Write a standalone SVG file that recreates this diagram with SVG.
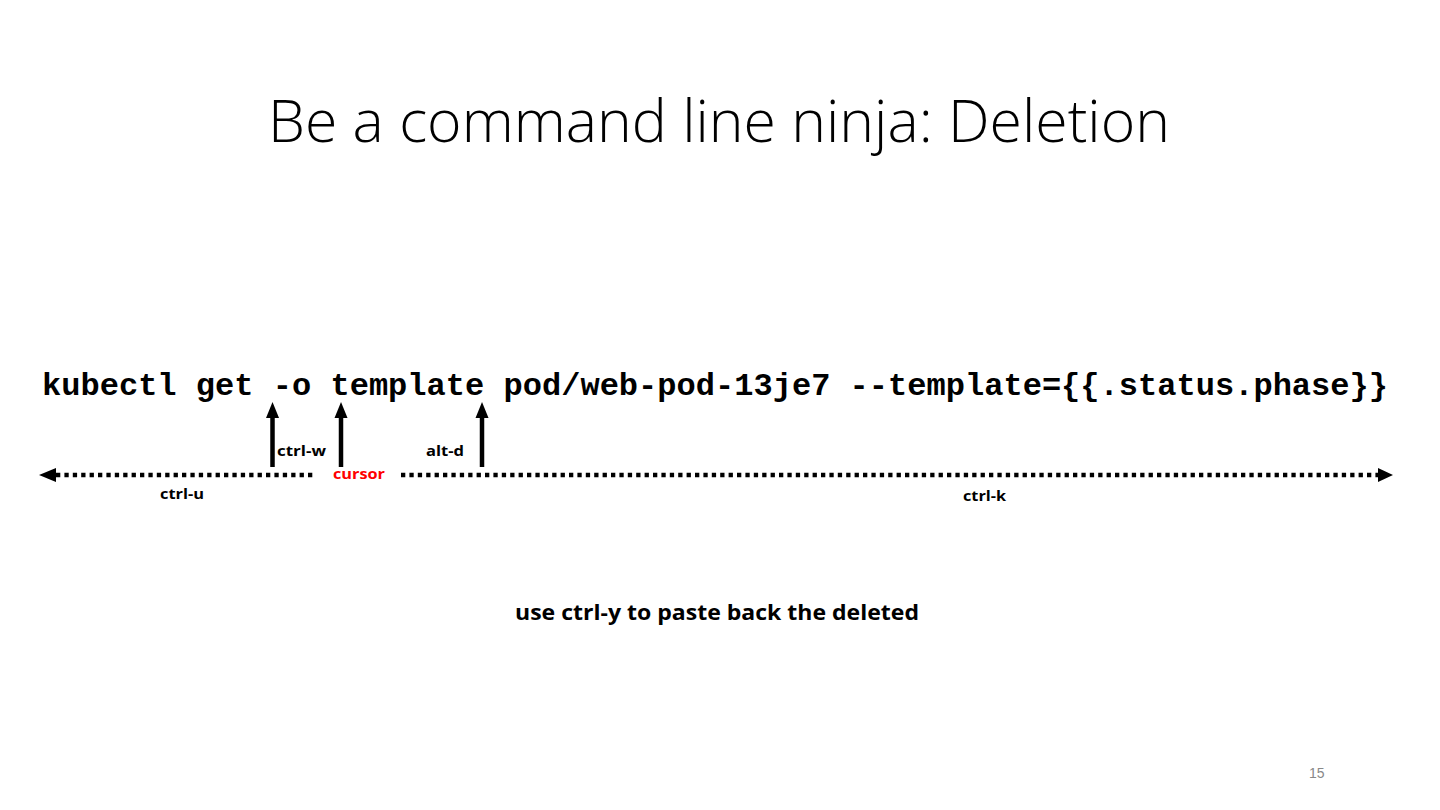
<svg xmlns="http://www.w3.org/2000/svg" width="1440" height="810" viewBox="0 0 1440 810">
  <defs>
    <style>
      .title { font-family: "Open Sans", "Liberation Sans", Arial, sans-serif; font-weight: 300; font-size: 58px; fill: #000; }
      .cmd { font-family: "Liberation Mono", "Courier New", monospace; font-weight: bold; font-size: 32px; fill: #000; }
      .lbl { font-family: "Open Sans", "Liberation Sans", Arial, sans-serif; font-weight: bold; font-size: 15px; fill: #000; }
      .red { fill: #ff0000; }
      .note { font-family: "Open Sans", "Liberation Sans", Arial, sans-serif; font-weight: bold; font-size: 21px; fill: #000; }
      .pg { font-family: "Liberation Sans", Arial, sans-serif; font-size: 14px; fill: #888; }
      .dots { stroke: #000; stroke-width: 4.3; stroke-dasharray: 4.3 4.1; fill: none; }
      .shaft { stroke: #000; stroke-width: 4.5; fill: none; }
      .head { fill: #000; }
    </style>
  </defs>
  <rect width="1440" height="810" fill="#ffffff"/>

  <text class="title" x="268" y="142" textLength="902" lengthAdjust="spacingAndGlyphs">Be a command line ninja: Deletion</text>

  <g id="command">
    <text class="cmd" x="42" y="395" textLength="1346" lengthAdjust="spacingAndGlyphs">kubectl get -o template pod/web-pod-13je7 --template={{.status.phase}}</text>
  </g>

  <g id="connectors">
    <line class="dots" x1="56" y1="475" x2="314" y2="475"/>
    <path class="head" d="M39,475 L56,468 L56,482 Z"/>
    <line class="dots" x1="401" y1="475" x2="1378" y2="475"/>
    <path class="head" d="M1393,475 L1378,468 L1378,482 Z"/>

    <line class="shaft" x1="272.5" y1="467" x2="272.5" y2="416"/>
    <path class="head" d="M272.5,402 L279,418 L266,418 Z"/>
    <line class="shaft" x1="341" y1="467" x2="341" y2="416"/>
    <path class="head" d="M341,402 L347.5,418 L334.5,418 Z"/>
    <line class="shaft" x1="482" y1="467" x2="482" y2="416"/>
    <path class="head" d="M482,402 L488.5,418 L475.5,418 Z"/>
  </g>

  <g id="label-ctrl-w"><text class="lbl" x="277" y="456" textLength="49" lengthAdjust="spacingAndGlyphs">ctrl-w</text></g>
  <g id="label-cursor"><text class="lbl red" x="333" y="479" textLength="52" lengthAdjust="spacingAndGlyphs">cursor</text></g>
  <g id="label-alt-d"><text class="lbl" x="426" y="456" textLength="38" lengthAdjust="spacingAndGlyphs">alt-d</text></g>
  <g id="label-ctrl-u"><text class="lbl" x="160" y="499" textLength="44" lengthAdjust="spacingAndGlyphs">ctrl-u</text></g>
  <g id="label-ctrl-k"><text class="lbl" x="963" y="501" textLength="43" lengthAdjust="spacingAndGlyphs">ctrl-k</text></g>

  <g id="note"><text class="note" x="515" y="620" textLength="404" lengthAdjust="spacingAndGlyphs">use ctrl-y to paste back the deleted</text></g>

  <text class="pg" x="1309" y="778">15</text>
</svg>
